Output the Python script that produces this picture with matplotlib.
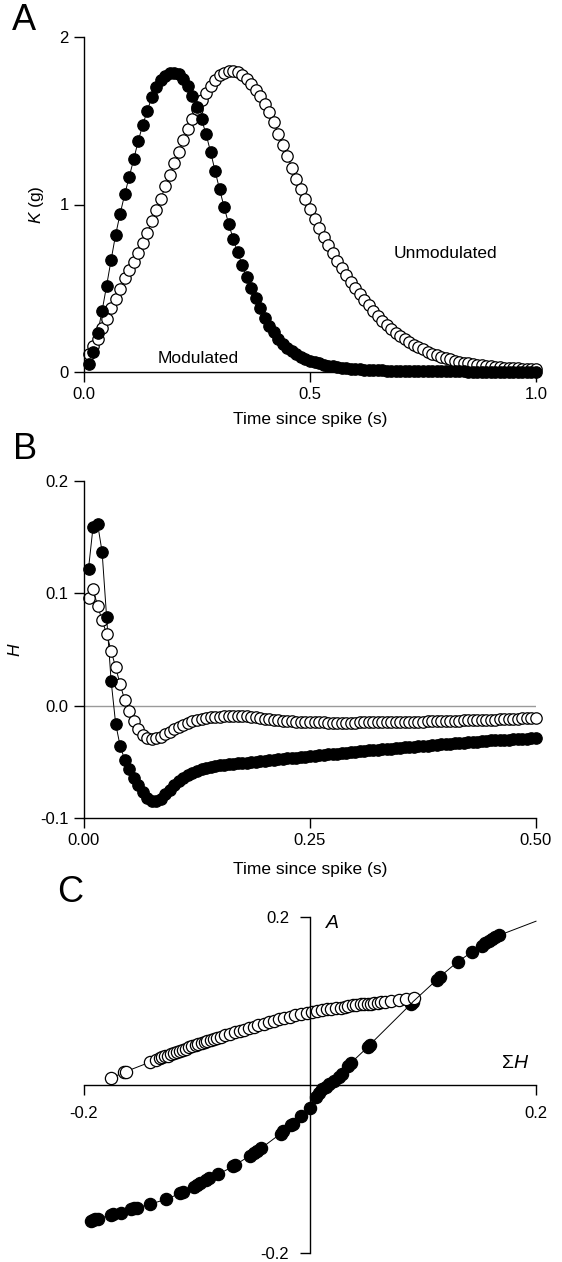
import numpy as np
import matplotlib
matplotlib.use('Agg')
import matplotlib.pyplot as plt

plt.rcParams['font.family'] = ['Liberation Sans', 'DejaVu Sans']
plt.rcParams['mathtext.fontset'] = 'custom'
plt.rcParams['mathtext.rm'] = 'Liberation Sans'
plt.rcParams['mathtext.it'] = 'Liberation Sans:italic'
plt.rcParams['axes.unicode_minus'] = False

# ---- panel A: K (g) vs time since spike, sampled every 10 ms
time_a = np.round(np.arange(1, 101) * 0.01, 3)
mod_k = [0.045, 0.12, 0.23, 0.365, 0.515, 0.67, 0.82, 0.945, 1.06, 1.165,
         1.27, 1.38, 1.475, 1.56, 1.64, 1.70, 1.745, 1.77, 1.785, 1.788,
         1.778, 1.752, 1.71, 1.645, 1.58, 1.51, 1.42, 1.315, 1.20, 1.09,
         0.985, 0.885, 0.795, 0.715, 0.64, 0.565, 0.50, 0.44, 0.38, 0.325,
         0.277, 0.236, 0.20, 0.17, 0.145, 0.124, 0.106, 0.091, 0.079, 0.068,
         0.059, 0.051, 0.044, 0.038, 0.033, 0.029, 0.025, 0.022, 0.019, 0.017,
         0.015, 0.013, 0.012, 0.011, 0.010, 0.009, 0.008, 0.007, 0.007, 0.006,
         0.006, 0.005, 0.005, 0.005, 0.004, 0.004, 0.004, 0.004, 0.003, 0.003,
         0.003, 0.003, 0.003, 0.003, 0.002, 0.002, 0.002, 0.002, 0.002, 0.002,
         0.002, 0.002, 0.002, 0.002, 0.002, 0.002, 0.002, 0.002, 0.002, 0.002]
unmod_k = [0.11, 0.155, 0.20, 0.262, 0.318, 0.38, 0.435, 0.495, 0.56, 0.61,
           0.655, 0.712, 0.77, 0.83, 0.90, 0.968, 1.035, 1.11, 1.175, 1.245,
           1.315, 1.385, 1.448, 1.51, 1.568, 1.625, 1.668, 1.71, 1.745, 1.772,
           1.788, 1.798, 1.80, 1.79, 1.772, 1.748, 1.718, 1.682, 1.645, 1.60,
           1.55, 1.49, 1.42, 1.355, 1.29, 1.22, 1.155, 1.095, 1.035, 0.975,
           0.915, 0.86, 0.808, 0.758, 0.708, 0.665, 0.62, 0.58, 0.54, 0.50,
           0.465, 0.43, 0.398, 0.366, 0.335, 0.305, 0.28, 0.255, 0.232, 0.212,
           0.195, 0.178, 0.162, 0.148, 0.135, 0.122, 0.11, 0.10, 0.09, 0.082,
           0.075, 0.068, 0.062, 0.056, 0.051, 0.047, 0.043, 0.039, 0.036, 0.033,
           0.030, 0.028, 0.026, 0.024, 0.022, 0.021, 0.020, 0.019, 0.018, 0.017]

# ---- panel B: H vs time since spike, sampled every 5 ms
time_b = np.round(np.arange(1, 101) * 0.005, 4)
mod_h = [0.122, 0.159, 0.162, 0.137, 0.079, 0.022, -0.016, -0.036, -0.048, -0.056,
         -0.064, -0.071, -0.077, -0.082, -0.085, -0.085, -0.083, -0.079, -0.075, -0.071,
         -0.067, -0.064, -0.062, -0.060, -0.058, -0.0567, -0.0556, -0.0547, -0.0539, -0.0532,
         -0.0527, -0.0523, -0.0518, -0.0514, -0.051, -0.0506, -0.0502, -0.0498, -0.0494, -0.049,
         -0.0486, -0.0482, -0.0478, -0.0474, -0.047, -0.0466, -0.0462, -0.0458, -0.0454, -0.045,
         -0.0446, -0.0442, -0.0438, -0.0434, -0.043, -0.0426, -0.0422, -0.0418, -0.0414, -0.041,
         -0.0406, -0.0403, -0.0399, -0.0396, -0.0392, -0.0389, -0.0385, -0.0382, -0.0378, -0.0375,
         -0.0372, -0.0368, -0.0365, -0.0361, -0.0358, -0.0355, -0.0351, -0.0348, -0.0344, -0.034,
         -0.0337, -0.0334, -0.0331, -0.0328, -0.0325, -0.0322, -0.0319, -0.0316, -0.0313, -0.031,
         -0.0308, -0.0306, -0.0304, -0.0302, -0.030, -0.0298, -0.0296, -0.0294, -0.0292, -0.029]
unmod_h = [0.096, 0.104, 0.089, 0.076, 0.064, 0.049, 0.034, 0.019, 0.005, -0.005,
           -0.014, -0.021, -0.026, -0.029, -0.030, -0.029, -0.0275, -0.0255, -0.023, -0.021,
           -0.019, -0.017, -0.0155, -0.014, -0.013, -0.012, -0.011, -0.0105, -0.010, -0.0097,
           -0.0095, -0.0093, -0.0092, -0.0092, -0.0093, -0.0095, -0.0099, -0.0104, -0.011, -0.0115,
           -0.012, -0.0125, -0.013, -0.0134, -0.0137, -0.014, -0.0142, -0.0144, -0.0145, -0.0146,
           -0.0147, -0.0148, -0.0149, -0.015, -0.015, -0.015, -0.015, -0.015, -0.015, -0.015,
           -0.0149, -0.0149, -0.0148, -0.0148, -0.0148, -0.0147, -0.0147, -0.0147, -0.0146, -0.0146,
           -0.0145, -0.0144, -0.0143, -0.0142, -0.0141, -0.014, -0.0139, -0.0138, -0.0137, -0.0136,
           -0.0135, -0.0134, -0.0133, -0.0132, -0.0131, -0.013, -0.0129, -0.0128, -0.0127, -0.0126,
           -0.0125, -0.0123, -0.0121, -0.0119, -0.0117, -0.0115, -0.0113, -0.0112, -0.0111, -0.011]

# ---- panel C: A vs sum of H
unmod_sum_h = [-0.176, -0.165, -0.163, -0.142, -0.136, -0.133, -0.131, -0.128, -0.126, -0.123,
               -0.120, -0.118, -0.115, -0.112, -0.110, -0.107, -0.104, -0.101, -0.099, -0.096,
               -0.093, -0.091, -0.088, -0.085, -0.082, -0.079, -0.075, -0.071, -0.066, -0.062,
               -0.058, -0.054, -0.050, -0.046, -0.041, -0.036, -0.032, -0.027, -0.023, -0.018,
               -0.013, -0.008, -0.003, 0.002, 0.006, 0.011, 0.015, 0.019, 0.023, 0.027,
               0.031, 0.034, 0.038, 0.041, 0.045, 0.048, 0.051, 0.054, 0.057, 0.060,
               0.063, 0.066, 0.072, 0.079, 0.085, 0.092]
unmod_a = [0.008, 0.015, 0.016, 0.027, 0.030, 0.032, 0.033, 0.034, 0.035, 0.037,
           0.038, 0.039, 0.041, 0.042, 0.043, 0.045, 0.046, 0.048, 0.049, 0.050,
           0.051, 0.052, 0.054, 0.055, 0.056, 0.057, 0.059, 0.061, 0.063, 0.064,
           0.066, 0.068, 0.069, 0.071, 0.073, 0.075, 0.076, 0.078, 0.080, 0.081,
           0.083, 0.084, 0.086, 0.087, 0.088, 0.089, 0.090, 0.091, 0.092, 0.092,
           0.093, 0.094, 0.095, 0.095, 0.096, 0.096, 0.097, 0.097, 0.098, 0.098,
           0.099, 0.099, 0.100, 0.101, 0.102, 0.103]
mod_sum_h = [-0.194, -0.192, -0.190, -0.188, -0.176, -0.174, -0.167, -0.158, -0.156, -0.153,
             -0.142, -0.127, -0.115, -0.112, -0.103, -0.100, -0.097, -0.092, -0.089, -0.081,
             -0.068, -0.066, -0.053, -0.050, -0.047, -0.043, -0.026, -0.024, -0.017, -0.015,
             -0.008, 0.000, 0.005, 0.008, 0.011, 0.014, 0.017, 0.021, 0.026, 0.028,
             0.034, 0.036, 0.051, 0.053, 0.089, 0.091, 0.112, 0.115, 0.131, 0.143,
             0.152, 0.155, 0.158, 0.161, 0.164, 0.167]
mod_a = [-0.162, -0.161, -0.160, -0.159, -0.155, -0.154, -0.152, -0.148, -0.147, -0.146,
         -0.142, -0.136, -0.129, -0.127, -0.121, -0.119, -0.117, -0.113, -0.111, -0.106,
         -0.097, -0.095, -0.084, -0.081, -0.078, -0.075, -0.058, -0.055, -0.048, -0.046,
         -0.037, -0.027, -0.014, -0.009, -0.005, -0.002, 0.001, 0.005, 0.010, 0.013,
         0.023, 0.026, 0.045, 0.048, 0.096, 0.099, 0.125, 0.129, 0.147, 0.158,
         0.166, 0.169, 0.171, 0.174, 0.176, 0.178]
# fitted curve continues past the last point up to the axis end
mod_curve_end = (0.2, 0.195)

W, H = 562, 1262
fig = plt.figure(figsize=(W / 100, H / 100), dpi=100)


def px_axes(left, top, right, bottom):
    return fig.add_axes([left / W, 1 - bottom / H, (right - left) / W, (bottom - top) / H])


def plain_axis(ax, pad):
    for side in ['top', 'right']:
        ax.spines[side].set_visible(False)
    for side in ['left', 'bottom']:
        ax.spines[side].set_linewidth(1.0)
    ax.tick_params(direction='out', length=7, width=1.0, pad=pad, labelsize=12)


marker_kw = dict(marker='o', ms=8.2, mew=0.9, mec='black', linestyle='none', clip_on=False)
line_kw = dict(color='black', lw=0.7, clip_on=False)

# ---------------- A
ax_a = px_axes(84, 37, 536, 372)
plain_axis(ax_a, 4)
ax_a.plot(time_a, unmod_k, **line_kw)
ax_a.plot(time_a, mod_k, **line_kw)
ax_a.plot(time_a, unmod_k, mfc='white', **marker_kw)
ax_a.plot(time_a, mod_k, mfc='black', **marker_kw)
ax_a.set_xlim(0, 1)
ax_a.set_ylim(0, 2)
ax_a.set_xticks([0, 0.5, 1.0])
ax_a.set_xticklabels(['0.0', '0.5', '1.0'])
ax_a.set_yticks([0, 1, 2])
ax_a.set_yticklabels(['0', '1', '2'])
ax_a.set_xlabel('Time since spike (s)', fontsize=12.5)
ax_a.xaxis.set_label_coords(0.5, -0.12)
ax_a.set_ylabel('$K$ (g)', fontsize=12.5)
ax_a.yaxis.set_label_coords(-0.085, 0.5)
ax_a.text(0.685, 0.71, 'Unmodulated', fontsize=12.5, ha='left', va='center')
ax_a.text(0.162, 0.08, 'Modulated', fontsize=12.5, ha='left', va='center')

# ---------------- B
ax_b = px_axes(84, 481, 536, 818)
plain_axis(ax_b, 4)
ax_b.axhline(0, color='#9a9a9a', lw=1.0, zorder=0)
ax_b.plot(time_b, unmod_h, **line_kw)
ax_b.plot(time_b, mod_h, **line_kw)
ax_b.plot(time_b, unmod_h, mfc='white', **marker_kw)
ax_b.plot(time_b, mod_h, mfc='black', **marker_kw)
ax_b.set_xlim(0, 0.5)
ax_b.set_ylim(-0.1, 0.2)
ax_b.set_xticks([0, 0.25, 0.5])
ax_b.set_xticklabels(['0.00', '0.25', '0.50'])
ax_b.set_yticks([-0.1, 0, 0.1, 0.2])
ax_b.set_yticklabels(['-0.1', '0.0', '0.1', '0.2'])
ax_b.set_xlabel('Time since spike (s)', fontsize=12.5)
ax_b.xaxis.set_label_coords(0.5, -0.13)
ax_b.set_ylabel('$H$', fontsize=12.5)
ax_b.yaxis.set_label_coords(-0.135, 0.5)

# ---------------- C
ax_c = px_axes(84, 917, 536, 1253)
ax_c.spines['top'].set_visible(False)
ax_c.spines['right'].set_visible(False)
ax_c.spines['left'].set_position('zero')
ax_c.spines['bottom'].set_position('zero')
ax_c.spines['left'].set_linewidth(1.0)
ax_c.spines['bottom'].set_linewidth(1.0)
ax_c.tick_params(direction='out', length=7, width=1.0, pad=8, labelsize=12)
ax_c.plot(unmod_sum_h, unmod_a, **line_kw)
ax_c.plot(mod_sum_h, mod_a, mfc='black', **dict(marker_kw, ms=8.8))
ax_c.plot(unmod_sum_h, unmod_a, mfc='white', **dict(marker_kw, ms=8.8))
ax_c.plot(list(mod_sum_h) + [mod_curve_end[0]], list(mod_a) + [mod_curve_end[1]], **line_kw)
ax_c.set_xlim(-0.2, 0.2)
ax_c.set_ylim(-0.2, 0.2)
ax_c.set_xticks([-0.2, 0.2])
ax_c.set_xticklabels(['-0.2', '0.2'])
ax_c.set_yticks([-0.2, 0.2])
ax_c.set_yticklabels(['-0.2', '0.2'])
ax_c.text(0.013, 0.192, '$A$', fontsize=14, ha='left', va='center')
ax_c.text(0.194, 0.026, r'$\Sigma H$', fontsize=14, ha='right', va='center')

# panel letters
fig.text(12 / W, 1 - 3 / H, 'A', fontsize=26, ha='left', va='top')
fig.text(13 / W, 1 - 432 / H, 'B', fontsize=26, ha='left', va='top')
fig.text(57 / W, 1 - 875 / H, 'C', fontsize=26, ha='left', va='top')

fig.savefig('out.png', dpi=100)
